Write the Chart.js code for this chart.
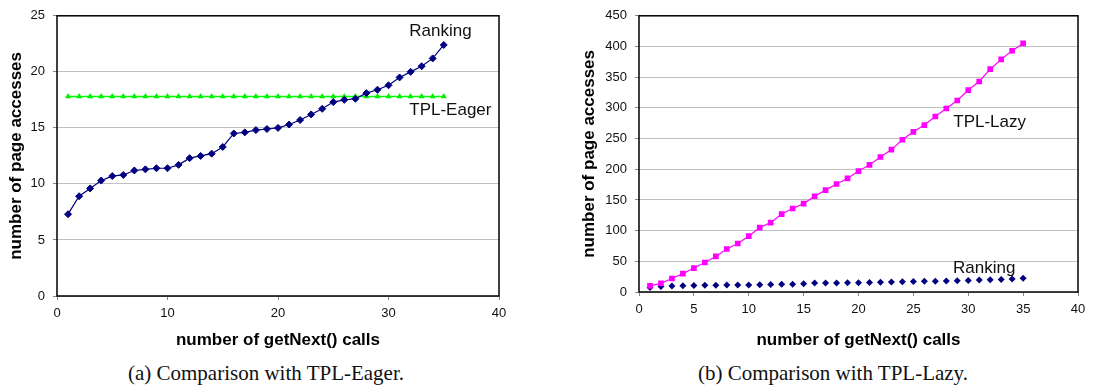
<!DOCTYPE html>
<html>
<head>
<meta charset="utf-8">
<script src="https://cdn.jsdelivr.net/npm/chart.js@4"></script>
<style>
  html, body { margin: 0; padding: 0; background: #fff; }
  body { width: 1093px; height: 392px; position: relative; overflow: hidden; }
  canvas { position: absolute; top: 0; }
  #graficoEager { left: 0; }
  #graficoLazy { left: 573px; }
  .legenda {
    position: absolute; top: 360px; height: 26px; line-height: 26px;
    font-family: "Liberation Serif", "Times New Roman", serif; font-size: 21px;
    color: #111; text-align: center; white-space: nowrap;
  }
</style>
</head>
<body>
<canvas id="graficoEager" width="520" height="355"></canvas>
<canvas id="graficoLazy" width="520" height="355"></canvas>
<div class="legenda" style="left:116px;width:300px">(a) Comparison with TPL-Eager.</div>
<div class="legenda" style="left:683px;width:300px">(b) Comparison with TPL-Lazy.</div>
<script>
// dados
const calls = [1, 2, 3, 4, 5, 6, 7, 8, 9, 10, 11, 12, 13, 14, 15, 16, 17, 18, 19, 20,
    21, 22, 23, 24, 25, 26, 27, 28, 29, 30, 31, 32, 33, 34, 35];
const rankingAccesses = [7.3, 8.9, 9.6, 10.3, 10.7, 10.8, 11.2, 11.3, 11.4, 11.4,
    11.7, 12.3, 12.5, 12.7, 13.3, 14.5, 14.6, 14.8, 14.9, 15.0,
    15.3, 15.7, 16.2, 16.7, 17.3, 17.5, 17.6, 18.1, 18.4, 18.8,
    19.5, 20.0, 20.5, 21.2, 22.4];
const eagerAccesses = [17.8, 17.8, 17.8, 17.8, 17.8, 17.8, 17.8, 17.8, 17.8, 17.8,
    17.8, 17.8, 17.8, 17.8, 17.8, 17.8, 17.8, 17.8, 17.8, 17.8,
    17.8, 17.8, 17.8, 17.8, 17.8, 17.8, 17.8, 17.8, 17.8, 17.8,
    17.8, 17.8, 17.8, 17.8, 17.8];
const lazyAccesses = [10, 14, 22, 30, 39, 48, 58, 70, 79, 91,
    105, 113, 127, 136, 144, 156, 166, 176, 185, 197,
    207, 220, 232, 248, 261, 272, 286, 299, 312, 329,
    343, 363, 379, 393, 405];
const xTitle = 'number of getNext() calls';
const yTitle = 'number of page accesses';

const fonte = '"Liberation Sans", Arial, sans-serif';

function pontos(ys) {
    return calls.map((x, i) => ({ x: x, y: ys[i] }));
}

// moldura preta + textos das séries
const moldura = {
    id: 'moldura',
    afterDraw(chart, args, opts) {
        const { ctx, chartArea: a, scales } = chart;
        ctx.save();
        ctx.strokeStyle = '#000';
        ctx.lineWidth = 1.5;
        ctx.strokeRect(a.left, a.top, a.right - a.left, a.bottom - a.top);
        ctx.fillStyle = '#111';
        ctx.font = '17px ' + fonte;
        ctx.textAlign = 'center';
        ctx.textBaseline = 'middle';
        (opts.rotulos || []).forEach(r => {
            ctx.fillText(r.texto, scales.x.getPixelForValue(r.x), scales.y.getPixelForValue(r.y));
        });
        ctx.restore();
    }
};

function opcoes(cfg) {
    return {
        responsive: false,
        animation: false,
        devicePixelRatio: 1,
        layout: { padding: { top: cfg.top, right: cfg.right, left: 0, bottom: 0 } },
        plugins: {
            legend: { display: false },
            tooltip: { enabled: false },
            moldura: { rotulos: cfg.rotulos }
        },
        scales: {
            x: {
                type: 'linear', min: 0, max: 40,
                afterFit: s => { s.height = cfg.xAltura; },
                ticks: { stepSize: cfg.xPasso, color: '#111', padding: 6, font: { family: fonte, size: 13 } },
                grid: { drawOnChartArea: false, drawTicks: true, tickLength: 4, tickColor: '#888' },
                border: { display: false },
                title: { display: true, text: xTitle, color: '#000', padding: { top: 4, bottom: 4 },
                    font: { family: fonte, size: 17, weight: 'bold' } }
            },
            y: {
                type: 'linear', min: 0, max: cfg.yMax,
                afterFit: s => { s.width = cfg.yLargura; },
                ticks: { stepSize: cfg.yPasso, color: '#111', padding: 8, font: { family: fonte, size: 13 } },
                grid: { color: '#c0c0c0', lineWidth: 1, drawTicks: true, tickLength: 4, tickColor: '#888' },
                border: { display: false },
                title: { display: true, text: yTitle, color: '#000', padding: { top: 6, bottom: 4 },
                    font: { family: fonte, size: 17, weight: 'bold' } }
            }
        }
    };
}

new Chart(document.getElementById('graficoEager'), {
    type: 'scatter',
    data: {
        datasets: [{
            label: 'Ranking',
            data: pontos(rankingAccesses),
            showLine: true,
            borderColor: '#000080',
            backgroundColor: '#000080',
            borderWidth: 1.2,
            pointStyle: 'rectRot',
            pointRadius: 3.5,
            pointBorderWidth: 1
        }, {
            label: 'TPL-Eager',
            data: pontos(eagerAccesses),
            showLine: true,
            borderColor: '#00ff00',
            backgroundColor: '#00ee00',
            borderWidth: 1.5,
            pointStyle: 'triangle',
            pointRadius: 3.5,
            pointBorderWidth: 0
        }]
    },
    options: opcoes({
        top: 12, right: 21, xAltura: 59, yLargura: 57,
        xPasso: 10, yMax: 25, yPasso: 5,
        rotulos: [
            { texto: 'Ranking', x: 34.7, y: 23.65 },
            { texto: 'TPL-Eager', x: 35.6, y: 16.6 }
        ]
    }),
    plugins: [moldura]
});

new Chart(document.getElementById('graficoLazy'), {
    type: 'scatter',
    data: {
        datasets: [{
            label: 'TPL-Lazy',
            data: pontos(lazyAccesses),
            showLine: true,
            borderColor: '#ff00ff',
            backgroundColor: '#ff00ff',
            borderWidth: 1.2,
            pointStyle: 'rect',
            pointRadius: 4,
            pointBorderWidth: 0
        }, {
            label: 'Ranking',
            data: pontos(rankingAccesses),
            showLine: false,
            borderColor: '#000080',
            backgroundColor: '#000080',
            pointStyle: 'rectRot',
            pointRadius: 3.5,
            pointBorderWidth: 0
        }]
    },
    options: opcoes({
        top: 6, right: 15, xAltura: 63, yLargura: 66,
        xPasso: 5, yMax: 450, yPasso: 50,
        rotulos: [
            { texto: 'TPL-Lazy', x: 31.95, y: 277 },
            { texto: 'Ranking', x: 31.45, y: 39 }
        ]
    }),
    plugins: [moldura]
});
</script>
</body>
</html>
